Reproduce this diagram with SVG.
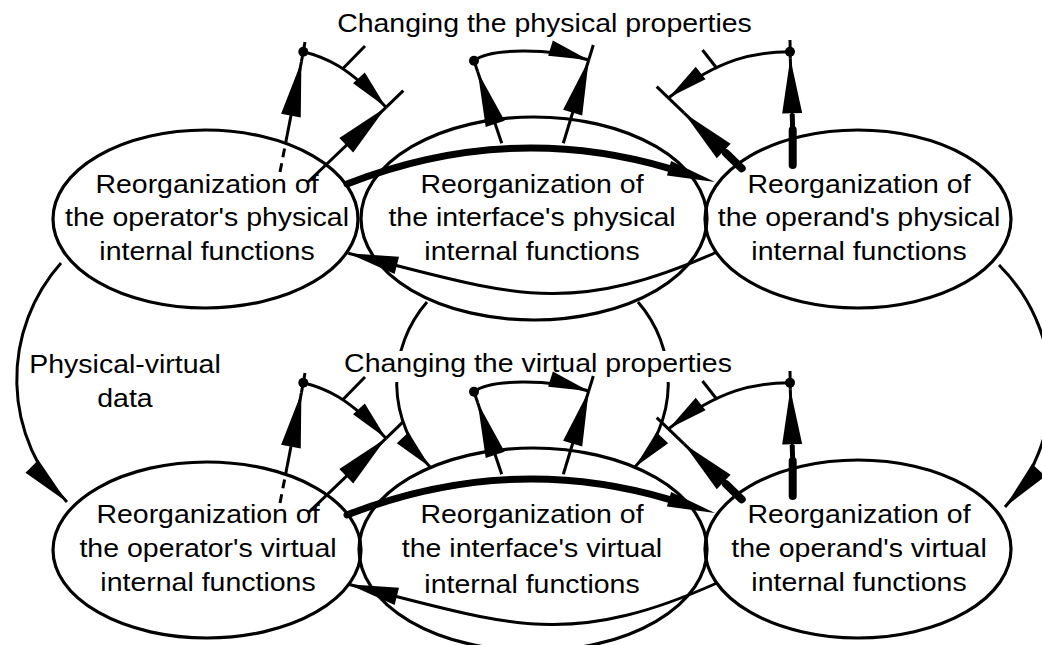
<svg xmlns="http://www.w3.org/2000/svg" width="1042" height="645" viewBox="0 0 1042 645">
<style>
.el{fill:none;stroke:#000;stroke-width:3.2}
.ln{fill:none;stroke:#000;stroke-width:3}
.neck{fill:none;stroke:#000;stroke-width:5}
.thk{fill:none;stroke:#000;stroke-width:8;stroke-linecap:round}
.bold{fill:none;stroke:#000;stroke-width:7;stroke-linecap:round}
.t{font-family:"Liberation Sans",Arial,sans-serif;font-size:26.5px;fill:#000;text-anchor:middle}
.dot{fill:#000}
.ah{fill:#000}
</style>
<defs>
<marker id="big" markerUnits="userSpaceOnUse" markerWidth="56" markerHeight="21" refX="55" refY="10" orient="auto" overflow="visible"><path d="M0,0 L55,10 L0,20 Z" fill="#000"/></marker>
<marker id="med" markerUnits="userSpaceOnUse" markerWidth="51" markerHeight="19" refX="50" refY="9" orient="auto" overflow="visible"><path d="M0,0 L50,9 L0,18 Z" fill="#000"/></marker>
<marker id="small" markerUnits="userSpaceOnUse" markerWidth="41" markerHeight="17" refX="40" refY="8" orient="auto" overflow="visible"><path d="M0,0 L40,8 L0,16 Z" fill="#000"/></marker>
</defs>
<rect width="1042" height="645" fill="#fff"/>

<g id="node-operator-physical">
<ellipse class="el" cx="205.5" cy="219" rx="152.5" ry="89"/>
<text class="t" transform="translate(207 0) scale(1.075 1)"><tspan x="0" y="193">Reorganization of</tspan><tspan x="0" y="226.5">the operator's physical</tspan><tspan x="0" y="260">internal functions</tspan></text>
</g>
<g id="node-interface-physical">
<ellipse class="el" cx="534" cy="218.5" rx="173" ry="101.5"/>
<text class="t" transform="translate(532 0) scale(1.075 1)"><tspan x="0" y="193">Reorganization of</tspan><tspan x="0" y="226.5">the interface's physical</tspan><tspan x="0" y="260">internal functions</tspan></text>
</g>
<g id="node-operand-physical">
<ellipse class="el" cx="858" cy="219" rx="153" ry="89"/>
<text class="t" transform="translate(859 0) scale(1.075 1)"><tspan x="0" y="193">Reorganization of</tspan><tspan x="0" y="226.5">the operand's physical</tspan><tspan x="0" y="260">internal functions</tspan></text>
</g>
<g id="node-operator-virtual">
<ellipse class="el" cx="207" cy="550" rx="154" ry="88"/>
<text class="t" transform="translate(208 0) scale(1.075 1)"><tspan x="0" y="523">Reorganization of</tspan><tspan x="0" y="557">the operator's virtual</tspan><tspan x="0" y="591">internal functions</tspan></text>
</g>
<g id="node-interface-virtual">
<ellipse class="el" cx="533" cy="549.5" rx="174" ry="101.5"/>
<text class="t" transform="translate(532 0) scale(1.075 1)"><tspan x="0" y="523">Reorganization of</tspan><tspan x="0" y="557.5">the interface's virtual</tspan><tspan x="0" y="593">internal functions</tspan></text>
</g>
<g id="node-operand-virtual">
<ellipse class="el" cx="858" cy="549" rx="153" ry="89"/>
<text class="t" transform="translate(859 0) scale(1.075 1)"><tspan x="0" y="523">Reorganization of</tspan><tspan x="0" y="557">the operand's virtual</tspan><tspan x="0" y="591">internal functions</tspan></text>
</g>

<g id="connectors">
<g id="conn-physical">
<path class="ln" d="M280,172 L285.5,143.7" stroke-dasharray="9 6"/>
<path class="ln" d="M285.5,143.7 L301.4,61.7" marker-end="url(#big)"/>
<path class="ln" d="M301.4,61.7 L305,42"/>
<circle class="dot" cx="303.3" cy="51.7" r="5"/>
<path class="ln" d="M303.3,51.7 C325,57 348,66 386,107.3" marker-end="url(#small)"/>
<path class="ln" d="M343,68.5 L365,46"/>
<path class="ln" d="M308,182 L386,107.3" marker-end="url(#big)"/>
<path class="ln" d="M386,107.3 L403.3,90.7"/>

<path class="ln" d="M501.7,143.3 L477.7,71.7" marker-end="url(#big)"/>
<path class="ln" d="M477.7,71.7 L474,60.7"/>
<circle class="dot" cx="474" cy="60.7" r="5"/>
<path class="ln" d="M474,60.7 C490,48 550,48 588.7,60" marker-end="url(#small)"/>
<path class="ln" d="M563.3,143.3 L588.7,60" marker-end="url(#big)"/>
<path class="ln" d="M588.7,60 L593.3,45"/>

<path class="thk" d="M792.7,165 L792.7,130"/>
<path class="neck" d="M792.7,130 L792.2,114"/>
<path class="ln" d="M792.2,114 L790.3,58.3" marker-end="url(#big)"/>
<path class="ln" d="M790.3,58.3 L790,40"/>
<circle class="dot" cx="790" cy="51.7" r="5"/>
<path class="ln" d="M790,51.7 C755,52 720,58 669,97.5" marker-end="url(#small)"/>
<path class="ln" d="M717,68.5 L702.5,50"/>
<path class="thk" d="M741.7,168.3 L726,153.2"/>
<path class="ln" d="M726,153.2 L684,112.9" marker-end="url(#big)"/>
<path class="ln" d="M684,112.9 L656.7,86.7"/>

<path class="bold" d="M347,184 Q508,121 669,168.3"/>
<polygon class="ah" points="715,182 671.1,161.1 666.9,175.5"/>
<path class="ln" d="M717,252 C564.4,320 507.2,292.9 348.3,253.3" marker-end="url(#med)"/>
</g>

<g id="conn-virtual" transform="translate(0 331)">
<path class="ln" d="M280,172 L285.5,143.7" stroke-dasharray="9 6"/>
<path class="ln" d="M285.5,143.7 L301.4,61.7" marker-end="url(#big)"/>
<path class="ln" d="M301.4,61.7 L305,42"/>
<circle class="dot" cx="303.3" cy="51.7" r="5"/>
<path class="ln" d="M303.3,51.7 C325,57 348,66 386,107.3" marker-end="url(#small)"/>
<path class="ln" d="M343,68.5 L365,46"/>
<path class="ln" d="M308,182 L386,107.3" marker-end="url(#big)"/>
<path class="ln" d="M386,107.3 L403.3,90.7"/>

<path class="ln" d="M501.7,143.3 L477.7,71.7" marker-end="url(#big)"/>
<path class="ln" d="M477.7,71.7 L474,60.7"/>
<circle class="dot" cx="474" cy="60.7" r="5"/>
<path class="ln" d="M474,60.7 C490,48 550,48 588.7,60" marker-end="url(#small)"/>
<path class="ln" d="M563.3,143.3 L588.7,60" marker-end="url(#big)"/>
<path class="ln" d="M588.7,60 L593.3,45"/>

<path class="thk" d="M792.7,165 L792.7,130"/>
<path class="neck" d="M792.7,130 L792.2,114"/>
<path class="ln" d="M792.2,114 L790.3,58.3" marker-end="url(#big)"/>
<path class="ln" d="M790.3,58.3 L790,40"/>
<circle class="dot" cx="790" cy="51.7" r="5"/>
<path class="ln" d="M790,51.7 C755,52 720,58 669,97.5" marker-end="url(#small)"/>
<path class="ln" d="M717,68.5 L702.5,50"/>
<path class="thk" d="M741.7,168.3 L726,153.2"/>
<path class="ln" d="M726,153.2 L684,112.9" marker-end="url(#big)"/>
<path class="ln" d="M684,112.9 L656.7,86.7"/>

<path class="bold" d="M347,184 Q508,121 669,168.3"/>
<polygon class="ah" points="715,182 671.1,161.1 666.9,175.5"/>
<path class="ln" d="M717,252 C564.4,320 507.2,292.9 348.3,253.3" marker-end="url(#med)"/>
</g>

<g id="conn-between">
<path class="ln" d="M61,263 A175,175 0 0 0 67,502" marker-end="url(#med)"/>
<path class="ln" d="M999,265 A175,175 0 0 1 1005,507" marker-end="url(#med)"/>
<path class="ln" d="M427,302 A123,123 0 0 0 430,467" marker-end="url(#small)"/>
<path class="ln" d="M638,302 A123,123 0 0 1 635,467" marker-end="url(#small)"/>
<rect x="386" y="351" width="24" height="31" fill="#fff"/>
<rect x="658" y="351" width="24" height="31" fill="#fff"/>
</g>
</g>

<g id="labels">
<text class="t" transform="translate(544.5 0) scale(1.075 1)" x="0" y="32">Changing the physical properties</text>
<text class="t" transform="translate(538 0) scale(1.075 1)" x="0" y="372">Changing the virtual properties</text>
<text class="t" transform="translate(125 0) scale(1.075 1)"><tspan x="0" y="373">Physical-virtual</tspan><tspan x="0" y="407">data</tspan></text>
</g>
</svg>
